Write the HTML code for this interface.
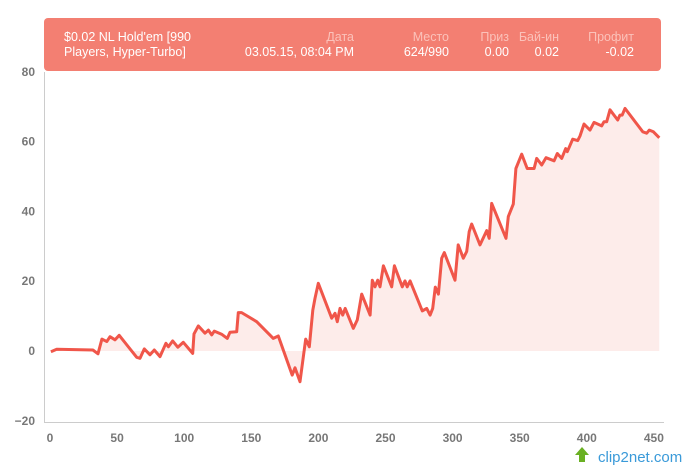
<!DOCTYPE html>
<html><head><meta charset="utf-8">
<style>
body{margin:0;background:#fff;width:687px;height:467px;overflow:hidden;font-family:"Liberation Sans",sans-serif;}
#chart{position:absolute;left:0;top:0;}
#tip{position:absolute;left:44px;top:18px;width:617px;height:53px;background:#f37f72;border-radius:4px;color:#fff;font-size:12.5px;}
#tip div{position:absolute;line-height:15px;}
.lbl{color:#fbc2ba;}
</style></head><body>
<svg id="chart" width="687" height="467"></svg>
<div id="tip">
 <div style="left:20px;top:12px;text-align:left">$0.02 NL Hold'em [990<br>Players, Hyper-Turbo]</div>
 <div style="right:307px;top:12px;text-align:right"><span class="lbl">Дата</span><br>03.05.15, 08:04 PM</div>
 <div style="right:212px;top:12px;text-align:right"><span class="lbl">Место</span><br>624/990</div>
 <div style="right:152px;top:12px;text-align:right"><span class="lbl">Приз</span><br>0.00</div>
 <div style="right:102px;top:12px;text-align:right"><span class="lbl">Бай-ин</span><br>0.02</div>
 <div style="right:27px;top:12px;text-align:right"><span class="lbl">Профит</span><br>-0.02</div>
</div>
<script>
const xs=[0.7,5,32,35.8,38.7,42.3,44.7,48.4,51.6,64.6,67.1,70.3,74.5,77.7,82,86.4,88.2,91.4,95.2,99.3,106.3,107.3,110.5,115.5,118,120.5,122.4,127.9,132.1,134.1,139.1,140.3,142.8,154,166.4,170.1,180.5,182.6,186.3,190.5,193.2,195.8,197.5,199.9,209.9,212.4,214.1,216.1,218.1,220,226,229,232.3,238.5,240.2,242.2,244.2,245.9,248.4,254.6,256.6,262.5,264.5,266.2,268.3,277.4,280.7,283.2,285.2,287.1,289.4,291.9,293.8,301.8,304.2,308,310.5,312.4,314.2,320.4,325.4,327.3,329.1,339.8,341.5,345.2,347.2,351.5,355.6,360.7,362.7,366.4,369.6,375.6,378,381.3,384.3,385.5,389.5,393.2,394.9,397.9,402.4,405.4,411.1,412.8,414.8,417.3,423,424.7,426.4,428.5,441.7,444.6,446.6,449.6,454];
const ys=[-0.2,0.5,0.3,-0.8,3.4,2.7,4.1,3.2,4.5,-1.8,-2.1,0.6,-1.1,0.3,-1.6,2.2,1.2,2.9,1.1,2.5,-0.7,4.9,7.2,5.1,6,4.6,5.7,4.8,3.6,5.4,5.5,11,11,8.4,3.6,4.3,-6.9,-4.8,-8.8,3.4,1.2,11.7,15.1,19.4,9.4,10.8,8.4,12.2,10.3,12.2,6.5,8.9,16.3,10.3,20.3,18.4,20.3,18.4,24.4,18.4,24.4,18.4,20.1,18.4,20.1,11.5,12.2,10.3,12.2,18.3,16.3,26.6,28.2,20.3,30.4,26.6,28.5,34.2,36.4,30.4,34.5,32.3,42.3,32.3,38.5,42.1,52.3,56.4,52.3,52.3,55.2,53.3,55.4,54.5,56.6,55.2,58,57.1,60.7,60.3,61.6,65,63.3,65.5,64.5,65.7,65.7,69.1,66.2,67.6,67.6,69.5,62.8,62.4,63.3,62.8,61.1];
const yTicks=[80,60,40,20,0,-20];
const xTicks=[0,50,100,150,200,250,300,350,400,450];
const NS="http://www.w3.org/2000/svg";
const svg=document.getElementById('chart');
const X=v=>50+v*1.342, Y=v=>351-v*3.49;
function mk(t,a){const e=document.createElementNS(NS,t);for(const k in a)e.setAttribute(k,a[k]);svg.appendChild(e);return e;}
let d=xs.map((x,i)=>(i?'L':'M')+X(x).toFixed(1)+','+Y(ys[i]).toFixed(1)).join('');
const area=mk('path',{d:d+'L'+X(xs[xs.length-1])+','+Y(0)+'L'+X(xs[0])+','+Y(0)+'Z',fill:'#fdecea'});


const line=mk('path',{d:d,fill:'none',stroke:'#f0564a','stroke-width':3,'stroke-linejoin':'round'});


const ya=mk('line',{x1:44.5,y1:72,x2:44.5,y2:422,stroke:'#ccc'});


const xa=mk('line',{x1:44,y1:422.5,x2:664,y2:422.5,stroke:'#ccc'});


yTicks.forEach(v=>{const t=mk('text',{x:35,y:Y(v)+4,'text-anchor':'end','font-size':12,'font-weight':'bold',fill:'#777','font-family':'Liberation Sans, sans-serif'});t.textContent=v<0?'−'+(-v):v;

});
xTicks.forEach(v=>{const t=mk('text',{x:X(v),y:442,'text-anchor':'middle','font-size':12,'font-weight':'bold',fill:'#777','font-family':'Liberation Sans, sans-serif'});t.textContent=v;

});
const wm=mk('text',{x:598,y:462,'font-size':15,fill:'#3a9ad9','font-family':'Liberation Sans, sans-serif'});wm.textContent='clip2net.com';


const ar=mk('path',{d:'M579,462 L579,455 L575,455 L582,447 L589,455 L585,455 L585,462 Z',fill:'#6ab023'});


</script>
</body></html>
